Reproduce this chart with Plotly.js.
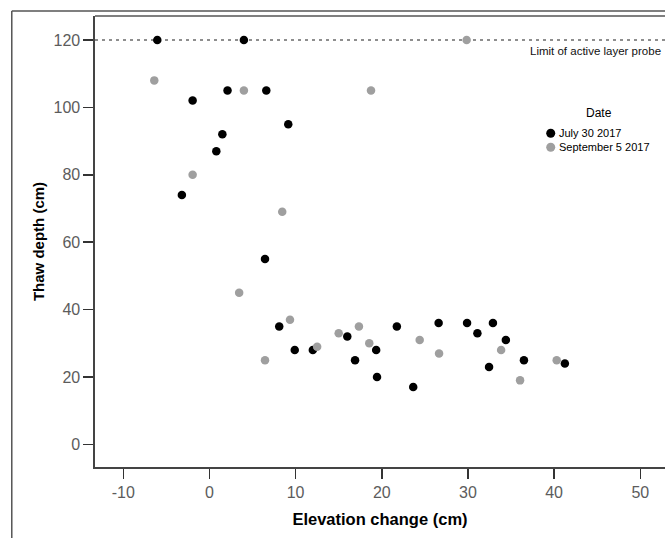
<!DOCTYPE html>
<html>
<head>
<meta charset="utf-8">
<script src="https://cdn.plot.ly/plotly-3.0.1.min.js"></script>
<style>
  html, body { margin: 0; padding: 0; background: #fff; overflow: hidden; width: 665px; height: 538px; }
  #chart { position: absolute; left: 0; top: 0; width: 665px; height: 538px; }
</style>
</head>
<body>
<div id="chart"></div>
<script>
// ---- data ----
const seriesNames = ["July 30 2017", "September 5 2017"];

const julyElevation = [-6.05, 4.0, 2.1, 6.6, -1.95, 9.15, 1.5, 0.8, -3.2, 6.45, 8.1, 9.9, 12.0,
  16.0, 16.9, 19.35, 19.45, 21.75, 23.65, 26.6, 29.9, 31.1, 32.9, 32.45, 34.4, 36.5, 41.25];
const julyThaw = [120, 120, 105, 105, 102, 95, 92, 87, 74, 55, 35, 28, 28,
  32, 25, 28, 20, 35, 17, 36, 36, 33, 36, 23, 31, 25, 24];

const septElevation = [29.85, -6.4, 4.0, 18.75, -1.95, 8.45, 3.45, 9.35, 6.45, 12.5, 15.0,
  17.35, 18.55, 24.4, 26.65, 33.85, 36.05, 40.3];
const septThaw = [120, 108, 105, 105, 80, 69, 45, 37, 25, 29, 33,
  35, 30, 31, 27, 28, 19, 25];

const xTicks = [-10, 0, 10, 20, 30, 40, 50];
const yTicks = [0, 20, 40, 60, 80, 100, 120];
const probeLimit = 120;
const probeLabel = "Limit of active layer probe";
const xTitle = "Elevation change (cm)";
const yTitle = "Thaw depth (cm)";
const legendTitle = "Date";

// ---- chart ----
const FONT = "Arial, 'Liberation Sans', sans-serif";
const seriesColors = ["#000000", "#9f9f9f"];
const MARKER = 8.5;

const traces = [
  {
    type: "scatter", mode: "markers", name: seriesNames[0],
    x: julyElevation, y: julyThaw,
    marker: { color: seriesColors[0], size: MARKER }
  },
  {
    type: "scatter", mode: "markers", name: seriesNames[1],
    x: septElevation, y: septThaw,
    marker: { color: seriesColors[1], size: MARKER }
  }
];

const axisCommon = {
  showgrid: false, zeroline: false,
  showline: true, linecolor: "#444", linewidth: 1.6,
  ticks: "outside", ticklen: 10, tickwidth: 1.5, tickcolor: "#333",
  tickfont: { family: FONT, size: 16, color: "#5c5c5c" },
  automargin: false
};

// legend drawn as a compact key (title, symbols, labels) inside the plot, as in the reference
const legendX = 0.7995, legendTextX = 0.8114, legendTitleX = 0.884, legendTitleY = 0.7856;
const legendRowsY = [0.7399, 0.7089];

const legendShapes = seriesNames.map((n, i) => ({
  type: "circle", xref: "paper", yref: "paper",
  xsizemode: "pixel", ysizemode: "pixel",
  xanchor: legendX, yanchor: legendRowsY[i],
  x0: -4.5, x1: 4.5, y0: -4.5, y1: 4.5,
  fillcolor: seriesColors[i], line: { width: 0 }
}));
const legendAnnotations = [
  { text: legendTitle, xref: "paper", yref: "paper", x: legendTitleX, y: legendTitleY,
    xanchor: "center", yanchor: "middle", showarrow: false,
    font: { family: FONT, size: 12, color: "#000" } }
].concat(seriesNames.map((n, i) => ({
  text: n, xref: "paper", yref: "paper", x: legendTextX, y: legendRowsY[i],
  xanchor: "left", yanchor: "middle", showarrow: false,
  font: { family: FONT, size: 11, color: "#000" }
})));

const layout = {
  width: 665, height: 538,
  margin: { l: 95, r: 0, t: 16, b: 71, pad: 0 },
  paper_bgcolor: "#ffffff", plot_bgcolor: "#ffffff",
  font: { family: FONT, color: "#000" },
  showlegend: false,
  xaxis: Object.assign({}, axisCommon, {
    range: [-13.28, 52.87],
    tickmode: "array", tickvals: xTicks, ticktext: xTicks.map(String),
    title: { text: xTitle, font: { family: FONT, size: 16.5, color: "#000", weight: "bold" }, standoff: 13 }
  }),
  yaxis: Object.assign({}, axisCommon, {
    range: [-6.7, 127.1],
    tickmode: "array", tickvals: yTicks, ticktext: yTicks.map(String),
    title: { text: yTitle, font: { family: FONT, size: 15, color: "#000", weight: "bold" }, standoff: 5 }
  }),
  shapes: [
    // probe limit reference line
    { type: "line", xref: "paper", yref: "y", x0: 0, x1: 1, y0: probeLimit, y1: probeLimit,
      line: { color: "#6a6a6a", width: 1.5, dash: "3px,4px" }, layer: "below" },
    // top border of plot area
    { type: "line", xref: "paper", yref: "paper", x0: 0, x1: 1.02, y0: 1, y1: 1,
      line: { color: "#555", width: 1.5 } },
    // outer frame (left and top edges visible)
    { type: "line", xref: "paper", yref: "paper", x0: -0.146, x1: 1.02, y0: 1.011, y1: 1.011,
      line: { color: "#555", width: 1.5 } },
    { type: "line", xref: "paper", yref: "paper", x0: -0.146, x1: -0.146, y0: 1.011, y1: -0.2,
      line: { color: "#555", width: 1.5 } }
  ].concat(legendShapes),
  annotations: [
    { text: probeLabel, xref: "paper", yref: "y", x: 1.0, xshift: -2, y: probeLimit, xanchor: "right",
      yanchor: "top", yshift: -3, showarrow: false,
      font: { family: FONT, size: 11.5, color: "#111" } }
  ].concat(legendAnnotations)
};

Plotly.newPlot("chart", traces, layout, { displayModeBar: false, staticPlot: true });
</script>
</body>
</html>
